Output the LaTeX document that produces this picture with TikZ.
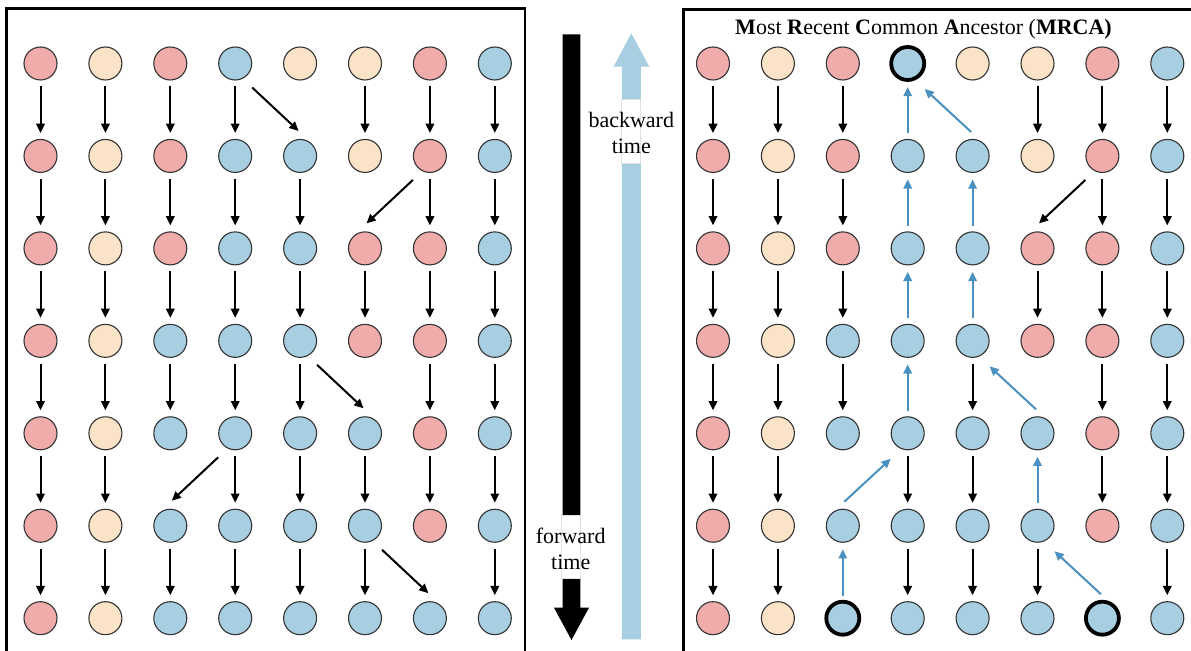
\documentclass[tikz,border=0pt]{standalone}
\usepackage{fontspec}
\setmainfont{Liberation Serif}
\usetikzlibrary{arrows.meta}
\definecolor{cR}{HTML}{F0ABAB}
\definecolor{cY}{HTML}{FAE3C7}
\definecolor{cB}{HTML}{A8CEE2}
\definecolor{lineage}{HTML}{4A90C0}
\newcommand\vdn[3][arr]{\draw[#1] ([shift={(0,23)}]#2.center) -- ([shift={(0,-23)}]#3.center);}
\newcommand\vup[2]{\draw[barr] ([shift={(0,-22.5)}]#1.center) -- ([shift={(0,23.5)}]#2.center);}
% #2 upper node, #3 lower node, #4 sign
\newcommand\ddn[4][arr]{\draw[#1] ([shift={({#4*17},24)}]#2.center) -- ([shift={({-#4*1.5},-25)}]#3.center);}
\newcommand\dup[3]{\draw[barr] ([shift={({-#3*1.5},-24)}]#1.center) -- ([shift={({#3*17},25.5)}]#2.center);}
\begin{document}
\begin{tikzpicture}[x=0.5pt,y=-0.5pt,
  dot/.style={circle,draw=black!80,line width=0.55pt,minimum size=16.5pt,inner sep=0pt},
  mrca/.style={draw=black,line width=1.9pt},
  arr/.style={line width=1pt,-{Triangle[length=4.6pt,width=4.2pt]}},
  barr/.style={line width=1pt,color=lineage,-{Triangle[length=4.6pt,width=4.2pt]}},
  lbl/.style={font=\fontsize{11}{13}\selectfont,align=center,inner sep=0pt},
  panel/.style={line width=1.2pt,draw=black}]
\useasboundingbox (0,0) rectangle (1191,651);
% panels
\draw[panel] (6.5,8.5) rectangle (525,700);
\draw[panel] (683.5,9.5) rectangle (1230,700);
% circles
\foreach \r/\cl in {1/{R,Y,R,B,Y,Y,R,B},2/{R,Y,R,B,B,Y,R,B},3/{R,Y,R,B,B,R,R,B},4/{R,Y,B,B,B,R,R,B},5/{R,Y,B,B,B,B,R,B},6/{R,Y,B,B,B,B,R,B},7/{R,Y,B,B,B,B,B,B}}{
  \foreach \col [count=\c] in \cl {
    \node[dot,fill=c\col] (L-\r-\c) at ({40.5+64.9*(\c-1)},{63.5+92.45*(\r-1)}) {};
    \node[dot,fill=c\col] (R-\r-\c) at ({713+64.9*(\c-1)},{63.5+92.45*(\r-1)}) {};
  }
}
\node[dot,mrca,fill=cB] at (R-1-4) {};
\node[dot,mrca,fill=cB] at (R-7-3) {};
\node[dot,mrca,fill=cB] at (R-7-7) {};
% left panel arrows
\foreach \r/\cl in {1/{1,2,3,4,6,7,8},2/{1,2,3,4,5,7,8},3/{1,2,3,4,5,6,7,8},4/{1,2,3,4,5,7,8},5/{1,2,4,5,6,7,8},6/{1,2,3,4,5,6,8}}{
  \pgfmathtruncatemacro\rn{\r+1}
  \foreach \c in \cl { \vdn{L-\r-\c}{L-\rn-\c} }
}
\ddn{L-1-4}{L-2-5}{1}
\ddn{L-2-7}{L-3-6}{-1}
\ddn{L-4-5}{L-5-6}{1}
\ddn{L-5-4}{L-6-3}{-1}
\ddn{L-6-6}{L-7-7}{1}
% right panel arrows
\foreach \r/\cl in {1/{1,2,3,6,7,8},2/{1,2,3,7,8},3/{1,2,3,6,7,8},4/{1,2,3,5,7,8},5/{1,2,4,5,7,8},6/{1,2,4,5,6,8}}{
  \pgfmathtruncatemacro\rn{\r+1}
  \foreach \c in \cl { \vdn{R-\r-\c}{R-\rn-\c} }
}
\ddn{R-2-7}{R-3-6}{-1}
\foreach \r/\c in {1/4,2/4,3/4,4/4,2/5,3/5,5/6,6/3}{
  \pgfmathtruncatemacro\rn{\r+1}
  \vup{R-\rn-\c}{R-\r-\c}
}
\dup{R-2-5}{R-1-4}{1}
\dup{R-5-6}{R-4-5}{1}
\dup{R-6-3}{R-5-4}{-1}
\dup{R-7-7}{R-6-6}{1}
% title
\node[lbl,anchor=base] (title) at (923.5,35) {\textbf{M}ost \textbf{R}ecent \textbf{C}ommon \textbf{A}ncestor (\textbf{MRCA)}};
% time arrows
\fill[black] (562.7,34.3) -- (580.3,34.3) -- (580.3,607.7) -- (589,607.7) -- (571.5,640) -- (554,607.7) -- (562.7,607.7) -- cycle;
\fill[cB] (621.8,639.3) -- (640.8,639.3) -- (640.8,66.7) -- (649.3,66.7) -- (631.3,33.3) -- (613.5,66.7) -- (621.8,66.7) -- cycle;
\filldraw[fill=white,draw=black!12,line width=0.4pt] (621.8,99.5) rectangle (640.8,163.3);
\filldraw[fill=white,draw=black!12,line width=0.4pt] (561,515) rectangle (580.3,578);
\node[lbl] (back) at (631.3,133) {backward\\time};
\node[lbl] (fwd) at (570.7,549) {forward\\time};
\end{tikzpicture}
\end{document}
